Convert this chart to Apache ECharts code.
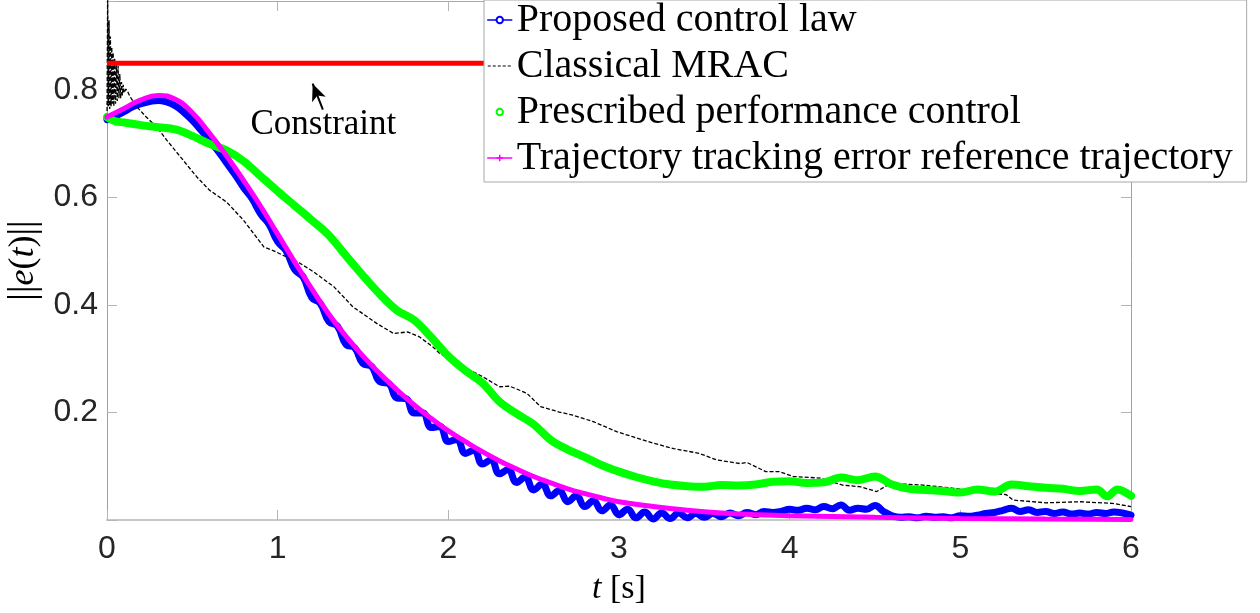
<!DOCTYPE html>
<html>
<head>
<meta charset="utf-8">
<script src="https://cdn.jsdelivr.net/npm/echarts@6/dist/echarts.min.js"></script>
<style>
html, body { margin: 0; padding: 0; background: #fff; }
#chart { width: 1260px; height: 613px; }
</style>
</head>
<body>
<div id="chart"></div>
<script>
// Tracking-error norm ||e(t)|| for four controllers, with the 0.85 constraint.

const tProposed = [
  0.00, 0.05, 0.10, 0.15, 0.20, 0.25, 0.30, 0.35, 0.40, 0.45,
  0.50, 0.55, 0.60, 0.65, 0.70, 0.75, 0.80, 0.85, 0.90, 0.95,
  1.00, 1.05, 1.10, 1.15, 1.20, 1.25, 1.30, 1.35, 1.40, 1.45,
  1.50, 1.55, 1.60, 1.65, 1.70, 1.75, 1.80, 1.85, 1.90, 1.95,
  2.00, 2.05, 2.10, 2.15, 2.20, 2.25, 2.30, 2.35, 2.40, 2.45,
  2.50, 2.55, 2.60, 2.65, 2.70, 2.75, 2.80, 2.85, 2.90, 2.95,
  3.00, 3.05, 3.10, 3.15, 3.20, 3.25, 3.30, 3.35, 3.40, 3.45,
  3.50, 3.55, 3.60, 3.65, 3.70, 3.75, 3.80, 3.85, 3.90, 3.95,
  4.00, 4.05, 4.10, 4.15, 4.20, 4.25, 4.30, 4.35, 4.40, 4.45,
  4.50, 4.55, 4.60, 4.65, 4.70, 4.75, 4.80, 4.85, 4.90, 4.95,
  5.00, 5.05, 5.10, 5.15, 5.20, 5.25, 5.30, 5.35, 5.40, 5.45,
  5.50, 5.55, 5.60, 5.65, 5.70, 5.75, 5.80, 5.85, 5.90, 5.95,
  6.00
];
const eProposed = [
  0.745, 0.752, 0.760, 0.769, 0.775, 0.779, 0.781, 0.778, 0.771, 0.759,
  0.744, 0.726, 0.707, 0.687, 0.665, 0.643, 0.619, 0.598, 0.570, 0.550,
  0.518, 0.501, 0.466, 0.452, 0.414, 0.403, 0.369, 0.361, 0.327, 0.321,
  0.291, 0.286, 0.257, 0.254, 0.227, 0.226, 0.199, 0.199, 0.172, 0.174,
  0.146, 0.150, 0.124, 0.130, 0.104, 0.112, 0.086, 0.094, 0.070, 0.080,
  0.056, 0.067, 0.045, 0.055, 0.034, 0.045, 0.025, 0.036, 0.017, 0.028,
  0.010, 0.020, 0.004, 0.015, 0.002, 0.013, 0.003, 0.013, 0.004, 0.012,
  0.005, 0.012, 0.006, 0.013, 0.008, 0.014, 0.010, 0.016, 0.014, 0.016,
  0.020, 0.018, 0.022, 0.019, 0.025, 0.021, 0.028, 0.018, 0.022, 0.020,
  0.027, 0.016, 0.008, 0.005, 0.006, 0.004, 0.007, 0.005, 0.006, 0.004,
  0.008, 0.007, 0.009, 0.012, 0.014, 0.018, 0.022, 0.016, 0.019, 0.014,
  0.016, 0.012, 0.015, 0.011, 0.013, 0.011, 0.014, 0.012, 0.015, 0.013,
  0.009
];

const tMRAC = [
  0.000, 0.004, 0.008, 0.012, 0.016, 0.020, 0.024, 0.028, 0.032, 0.036,
  0.040, 0.045, 0.050, 0.055, 0.060, 0.065, 0.070, 0.075, 0.080, 0.085,
  0.090, 0.095, 0.100, 0.110, 0.120, 0.135, 0.175, 0.23, 0.29, 0.35,
  0.43, 0.525, 0.60, 0.70, 0.80, 0.92, 0.97, 1.05, 1.13, 1.21,
  1.33, 1.44, 1.58, 1.68, 1.76, 1.83, 1.91, 1.95, 2.07, 2.20,
  2.30, 2.36, 2.46, 2.54, 2.65, 2.73, 2.85, 2.99, 3.08, 3.20,
  3.32, 3.47, 3.57, 3.71, 3.75, 3.86, 3.94, 4.02, 4.18, 4.31,
  4.41, 4.51, 4.59, 4.78, 4.96, 5.11, 5.27, 5.31, 5.50, 5.70,
  5.89, 6.00
];
const eMRAC = [
  0.750, 0.990, 0.770, 0.930, 0.765, 0.900, 0.770, 0.880, 0.775, 0.870,
  0.770, 0.860, 0.775, 0.850, 0.780, 0.845, 0.785, 0.830, 0.785, 0.815,
  0.790, 0.810, 0.795, 0.802, 0.798, 0.788, 0.769, 0.750, 0.732, 0.707,
  0.676, 0.639, 0.614, 0.592, 0.558, 0.508, 0.502, 0.490, 0.478, 0.462,
  0.434, 0.397, 0.366, 0.347, 0.350, 0.341, 0.322, 0.310, 0.288, 0.267,
  0.248, 0.249, 0.236, 0.211, 0.201, 0.195, 0.183, 0.164, 0.155, 0.143,
  0.133, 0.124, 0.112, 0.105, 0.107, 0.090, 0.090, 0.081, 0.078, 0.065,
  0.062, 0.053, 0.068, 0.065, 0.059, 0.053, 0.047, 0.037, 0.032, 0.034,
  0.031, 0.025
];

const tPPC = [
  0.00, 0.05, 0.10, 0.20, 0.30, 0.40, 0.50, 0.60, 0.70, 0.80,
  0.90, 1.00, 1.10, 1.20, 1.30, 1.40, 1.50, 1.60, 1.70, 1.80,
  1.90, 2.00, 2.10, 2.20, 2.30, 2.40, 2.50, 2.60, 2.70, 2.80,
  2.90, 3.00, 3.10, 3.20, 3.30, 3.40, 3.50, 3.60, 3.70, 3.80,
  3.90, 4.00, 4.10, 4.20, 4.30, 4.40, 4.50, 4.60, 4.70, 4.80,
  4.90, 5.00, 5.10, 5.20, 5.30, 5.40, 5.50, 5.60, 5.70, 5.80,
  5.86, 5.92, 6.00
];
const ePPC = [
  0.750, 0.742, 0.740, 0.735, 0.731, 0.727, 0.715, 0.700, 0.688, 0.668,
  0.640, 0.612, 0.585, 0.558, 0.530, 0.492, 0.455, 0.420, 0.390, 0.372,
  0.340, 0.305, 0.278, 0.255, 0.220, 0.198, 0.178, 0.149, 0.131, 0.117,
  0.102, 0.090, 0.080, 0.072, 0.066, 0.063, 0.062, 0.065, 0.064, 0.066,
  0.071, 0.072, 0.069, 0.070, 0.079, 0.074, 0.081, 0.066, 0.058, 0.056,
  0.054, 0.051, 0.057, 0.053, 0.066, 0.063, 0.060, 0.058, 0.054, 0.057,
  0.044, 0.057, 0.045
];

const tRef = [
  0.0, 0.1, 0.2, 0.3, 0.4, 0.5, 0.6, 0.7, 0.8, 0.9,
  1.0, 1.1, 1.2, 1.3, 1.4, 1.5, 1.6, 1.7, 1.8, 1.9,
  2.0, 2.1, 2.2, 2.3, 2.4, 2.5, 2.6, 2.7, 2.8, 2.9,
  3.0, 3.2, 3.4, 3.6, 3.8, 4.0, 4.5, 5.0, 5.5, 6.0
];
const eRef = [
  0.750, 0.766, 0.782, 0.790, 0.783, 0.758, 0.720, 0.678, 0.632, 0.584,
  0.532, 0.480, 0.430, 0.383, 0.342, 0.305, 0.272, 0.242, 0.214, 0.189,
  0.166, 0.146, 0.127, 0.110, 0.095, 0.081, 0.069, 0.058, 0.049, 0.041,
  0.034, 0.025, 0.018, 0.013, 0.010, 0.008, 0.005, 0.003, 0.002, 0.001
];

const constraintLevel = 0.85;
const xTicks = [0, 1, 2, 3, 4, 5, 6];
const yTickLabels = [0.2, 0.4, 0.6, 0.8];

const seriesNames = [
  'Proposed control law',
  'Classical MRAC',
  'Prescribed performance control',
  'Trajectory tracking error reference trajectory'
];

const zip = (t, e) => t.map((v, i) => [v, e[i]]);

const SERIF = '"Liberation Serif", "Times New Roman", serif';
const SANS = '"Liberation Sans", Arial, Helvetica, sans-serif';
const TICK_COLOR = '#262626';
const Y_MAX = 0.966;

const chart = echarts.init(document.getElementById('chart'), null, { renderer: 'canvas' });

const baseAxis = {
  type: 'value',
  splitLine: { show: false },
  axisTick: { show: true, inside: true, length: 10, lineStyle: { color: '#b4b4b4', width: 1 } }
};

const option = {
  animation: false,
  backgroundColor: '#fff',
  grid: { left: 107, right: 129, top: 1, bottom: 93, containLabel: false, outerBoundsMode: 'none' },
  legend: {
    show: true,
    z: 20,
    zlevel: 0,
    orient: 'vertical',
    left: 484,
    top: 0,
    padding: [0, 14, 4, 3],
    itemGap: 6,
    itemWidth: 24,
    itemHeight: 8,
    selectedMode: false,
    backgroundColor: '#fff',
    borderColor: '#a8a8a8',
    borderWidth: 1,
    textStyle: { fontFamily: SERIF, fontSize: 40, lineHeight: 40, color: '#000' },
    data: [
      { name: seriesNames[0], itemStyle: { color: '#0000ff' }, lineStyle: { color: '#0000ff', width: 1.5 } },
      { name: seriesNames[1], itemStyle: { color: 'rgba(0,0,0,0)', borderWidth: 0, opacity: 0 }, lineStyle: { color: '#000', width: 1.2, type: [3, 2] } },
      { name: seriesNames[2], itemStyle: { color: '#00ff00' }, lineStyle: { width: 0, opacity: 0 } },
      { name: seriesNames[3], itemStyle: { color: '#ff00ff', borderColor: '#ff00ff', borderWidth: 1.5 }, lineStyle: { color: '#ff00ff', width: 1.5 } }
    ]
  },
  xAxis: [
    Object.assign({}, baseAxis, {
      min: xTicks[0], max: xTicks[xTicks.length - 1], interval: 1,
      position: 'bottom',
      axisLine: { show: true, onZero: false, lineStyle: { color: '#c8c8c8', width: 2 } },
      axisLabel: { show: true, margin: 13, fontFamily: SANS, fontSize: 32, color: TICK_COLOR },
      name: '{i|t} [s]',
      nameLocation: 'middle',
      nameGap: 52,
      nameTextStyle: {
        fontFamily: SERIF, fontSize: 34, color: '#000',
        rich: { i: { fontFamily: SERIF, fontStyle: 'italic', fontSize: 34, color: '#000' } }
      }
    }),
    Object.assign({}, baseAxis, {
      min: xTicks[0], max: xTicks[xTicks.length - 1], interval: 1,
      position: 'top',
      axisLine: { show: true, onZero: false, lineStyle: { color: '#a8a8a8', width: 1 } },
      axisLabel: { show: false }
    })
  ],
  yAxis: [
    Object.assign({}, baseAxis, {
      min: 0, max: Y_MAX, interval: 0.2,
      position: 'left',
      axisLine: { show: true, onZero: false, lineStyle: { color: '#a0a0a0', width: 1 } },
      axisLabel: {
        show: true, margin: 9, fontFamily: SANS, fontSize: 32, color: TICK_COLOR,
        formatter: v => yTickLabels.some(l => Math.abs(l - v) < 1e-9) ? v.toFixed(1) : ''
      },
      name: '{b|||}{i|e}({i|t}){b|||}',
      nameLocation: 'middle',
      nameGap: 56,
      nameTextStyle: {
        fontFamily: SERIF, fontSize: 36, color: '#000',
        rich: {
          i: { fontFamily: SERIF, fontStyle: 'italic', fontSize: 36, color: '#000' },
          b: { fontFamily: SERIF, fontSize: 38, color: '#000' }
        }
      }
    }),
    Object.assign({}, baseAxis, {
      min: 0, max: Y_MAX, interval: 0.2,
      position: 'right',
      axisLine: { show: true, onZero: false, lineStyle: { color: '#a0a0a0', width: 1 } },
      axisLabel: { show: false }
    })
  ],
  series: [
    {
      name: seriesNames[0], type: 'line', data: zip(tProposed, eProposed),
      symbol: 'emptyCircle', showSymbol: false, smooth: 0.45,
      lineStyle: { color: '#0000ff', width: 7, cap: 'round', join: 'round' },
      itemStyle: { color: '#0000ff' }, emphasis: { disabled: true }, z: 2
    },
    {
      name: seriesNames[1], type: 'line', data: zip(tMRAC, eMRAC),
      symbol: 'none', showSymbol: false,
      lineStyle: { color: '#000', width: 1.3, type: [4, 2] },
      itemStyle: { color: '#000' }, emphasis: { disabled: true }, z: 2
    },
    {
      name: seriesNames[2], type: 'line', data: zip(tPPC, ePPC),
      symbol: 'emptyCircle', showSymbol: false, smooth: 0.35,
      lineStyle: { color: '#00ff00', width: 8, cap: 'round', join: 'round' },
      itemStyle: { color: '#00ff00' }, emphasis: { disabled: true }, z: 2
    },
    {
      name: seriesNames[3], type: 'line', data: zip(tRef, eRef),
      symbol: 'path://M0,5L10,5M5,0L5,10', showSymbol: false, smooth: true,
      lineStyle: { color: '#ff00ff', width: 5, cap: 'round' },
      itemStyle: { color: '#ff00ff' }, emphasis: { disabled: true }, z: 2
    },
    {
      name: 'Constraint', type: 'line',
      data: [[xTicks[0], constraintLevel], [xTicks[xTicks.length - 1], constraintLevel]],
      symbol: 'none', showSymbol: false,
      lineStyle: { color: '#ff0000', width: 5 },
      itemStyle: { color: '#ff0000' }, emphasis: { disabled: true }, z: 2,
      markLine: {
        silent: true,
        symbol: ['none', 'arrow'],
        symbolSize: [11, 17],
        label: { show: false },
        lineStyle: { color: '#000', width: 2, type: 'solid' },
        emphasis: { disabled: true },
        data: [[{ coord: [1.265, 0.764] }, { coord: [1.205, 0.812] }]]
      },
      markPoint: {
        silent: true,
        data: [{
          coord: [1.268, 0.735], symbol: 'circle', symbolSize: 1,
          itemStyle: { color: 'rgba(0,0,0,0)' },
          label: { show: true, position: 'inside', formatter: 'Constraint', fontFamily: SERIF, fontSize: 35, color: '#000' }
        }]
      }
    }
  ]
};

chart.setOption(option);
</script>
</body>
</html>
